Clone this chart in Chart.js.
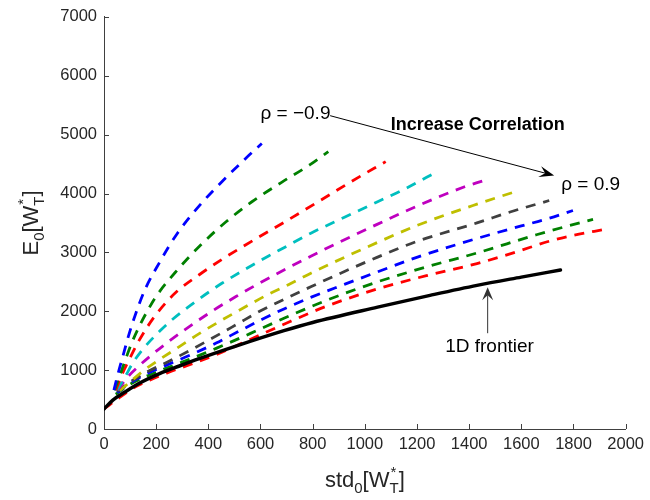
<!DOCTYPE html>
<html><head><meta charset="utf-8">
<script src="https://cdn.jsdelivr.net/npm/chart.js@4/dist/chart.umd.min.js"></script>
<style>html,body{margin:0;padding:0;background:#fff}canvas{display:block}</style>
</head><body>
<canvas id="c" width="650" height="500"></canvas>
<script>
// ---- data ----
const xTicks = [0,200,400,600,800,1000,1200,1400,1600,1800,2000];
const yTicks = [0,1000,2000,3000,4000,5000,6000,7000];

const frontierX = [0,34,80,137,213,289,365,500,690,800,1049,1250,1430,1600,1750];
const frontierY = [340,491,627,780,940,1070,1195,1400,1670,1810,2070,2270,2440,2580,2700];

const rhoLabels = ['-0.9','-0.7','-0.5','-0.3','-0.1','0.1','0.3','0.5','0.7','0.9'];

const rhoM09X = [38,55,72,90,110,156,213,281,365,452,544,605];
const rhoM09Y = [660,960,1230,1520,1810,2356,2830,3322,3790,4200,4600,4850];

const rhoM07X = [40,60,80,106,137,167,201,281,365,468,567,681,790,860];
const rhoM07Y = [660,900,1150,1458,1760,2010,2260,2700,3100,3520,3860,4190,4490,4712];

const rhoM05X = [45,68,99,129,167,213,278,365,452,544,690,821,947,1080];
const rhoM05Y = [660,915,1200,1460,1740,2020,2330,2620,2880,3130,3510,3860,4200,4542];

const rhoM03X = [50,80,110,150,213,262,365,452,544,631,690,795,924,1049,1150,1278];
const rhoM03Y = [660,881,1119,1360,1660,1860,2210,2475,2720,2940,3080,3330,3600,3860,4070,4373];

const rhoM01X = [53,87,129,175,240,327,414,506,593,690,795,924,1049,1202,1380,1456];
const rhoM01Y = [661,864,1051,1230,1458,1740,2000,2250,2470,2700,2940,3220,3480,3790,4110,4220];

const rhoP01X = [60,99,148,213,289,365,452,544,631,707,795,924,1049,1202,1430,1567];
const rhoP01Y = [650,797,980,1180,1400,1620,1850,2080,2290,2450,2650,2920,3170,3460,3820,4017];

const rhoP03X = [50,100,170,240,327,414,506,593,690,795,924,1049,1202,1430,1560,1707];
const rhoP03Y = [640,800,980,1130,1330,1540,1770,1990,2200,2420,2680,2920,3190,3500,3690,3881];

const rhoP05X = [50,100,170,240,338,430,517,605,690,795,924,1049,1202,1365,1479,1600,1700,1798];
const rhoP05Y = [620,780,950,1085,1270,1460,1660,1860,2040,2240,2460,2670,2920,3150,3300,3450,3570,3712];

const rhoP07X = [45,100,170,240,320,430,560,690,850,1049,1250,1430,1658,1780,1875];
const rhoP07Y = [590,760,910,1035,1170,1370,1620,1880,2180,2500,2770,2990,3300,3450,3559];

const rhoP09X = [0,61,110,175,240,340,450,560,690,850,1049,1250,1430,1582,1707,1800,1920];
const rhoP09Y = [340,540,690,830,950,1110,1300,1520,1780,2080,2380,2620,2810,3010,3190,3290,3390];

// ---- styling ----
const curveColors = ['#0000ff','#008000','#ff0000','#00bfbf','#bf00bf','#bfbf00','#404040','#0000ff','#008000','#ff0000'];
const seriesX = [rhoM09X,rhoM07X,rhoM05X,rhoM03X,rhoM01X,rhoP01X,rhoP03X,rhoP05X,rhoP07X,rhoP09X];
const seriesY = [rhoM09Y,rhoM07Y,rhoM05Y,rhoM03Y,rhoM01Y,rhoP01Y,rhoP03Y,rhoP05Y,rhoP07Y,rhoP09Y];

const FONT = "'Liberation Sans', Arial, Helvetica, sans-serif";
const TXT = '#262626';
const AXIS = '#404040';

function pts(xs, ys){ return xs.map((x,i)=>({x:x, y:ys[i]})); }

const datasets = [{
  label: '1D frontier',
  data: pts(frontierX, frontierY),
  borderColor: '#000000',
  borderWidth: 3.5,
  borderCapStyle: 'round',
  showLine: true, pointRadius: 0, cubicInterpolationMode: 'monotone',
  order: 0
}];
seriesX.forEach((xs,i)=>{
  datasets.push({
    label: '\u03c1 = ' + rhoLabels[i],
    data: pts(xs, seriesY[i]),
    borderColor: curveColors[i],
    borderWidth: 2.8,
    borderDash: [10,8],
    borderCapStyle: 'butt',
    showLine: true, pointRadius: 0, cubicInterpolationMode: 'monotone',
    order: 1
  });
});

function drawRich(ctx, parts, x, y){
  let w = 0;
  const m = parts.map(p=>{
    if (p.stack){
      let mw = 0;
      p.stack.forEach(s=>{ ctx.font = s.s + 'px ' + FONT; mw = Math.max(mw, ctx.measureText(s.t).width); });
      return mw;
    }
    ctx.font = p.s + 'px ' + FONT;
    return ctx.measureText(p.t).width;
  });
  m.forEach(v=> w += v);
  let cx = x - w/2;
  ctx.textAlign = 'left';
  ctx.textBaseline = 'alphabetic';
  parts.forEach((p,i)=>{
    if (p.stack){
      p.stack.forEach(s=>{ ctx.font = s.s + 'px ' + FONT; ctx.fillText(s.t, cx + (s.dx||0), y + (s.dy||0)); });
    } else {
      ctx.font = p.s + 'px ' + FONT;
      ctx.fillText(p.t, cx, y + (p.dy||0));
    }
    cx += m[i];
  });
}

function arrow(ctx, x1, y1, x2, y2, color, lw, hl, hw){
  const a = Math.atan2(y2-y1, x2-x1);
  ctx.save();
  ctx.strokeStyle = color; ctx.lineWidth = lw;
  ctx.beginPath();
  ctx.moveTo(x1, y1);
  ctx.lineTo(x2 - Math.cos(a)*hl*0.6, y2 - Math.sin(a)*hl*0.6);
  ctx.stroke();
  ctx.translate(x2, y2); ctx.rotate(a);
  ctx.beginPath();
  ctx.moveTo(0,0); ctx.lineTo(-hl, -hw/2); ctx.lineTo(-hl*0.62, 0); ctx.lineTo(-hl, hw/2); ctx.closePath();
  ctx.fillStyle = color; ctx.fill();
  ctx.restore();
}

const decor = {
  id: 'decor',
  afterDraw(chart){
    const ctx = chart.ctx, xs = chart.scales.x, ys = chart.scales.y, ca = chart.chartArea;
    ctx.save();
    ctx.strokeStyle = AXIS; ctx.lineWidth = 1;
    ctx.beginPath();
    xTicks.forEach(v=>{ const p = Math.round(xs.getPixelForValue(v)) + 0.5; ctx.moveTo(p, ca.bottom); ctx.lineTo(p, ca.bottom - 5); });
    yTicks.forEach(v=>{ const p = Math.round(ys.getPixelForValue(v)) + 0.5; ctx.moveTo(ca.left, p); ctx.lineTo(ca.left + 5, p); });
    ctx.stroke();

    ctx.fillStyle = TXT;
    const midX = (ca.left + ca.right)/2, midY = (ca.top + ca.bottom)/2;
    const titleParts = (head)=>[
      {t: head, s: 22},
      {t: '0', s: 15, dy: 6},
      {t: '[W', s: 22},
      {stack: [{t: '*', s: 15, dy: -10, dx: 1}, {t: 'T', s: 15, dy: 6}]},
      {t: ']', s: 22}
    ];
    drawRich(ctx, titleParts('std'), midX, 487);
    ctx.save();
    ctx.translate(38, midY);
    ctx.rotate(-Math.PI/2);
    drawRich(ctx, titleParts('E'), 0, 0);
    ctx.restore();

    ctx.fillStyle = '#000';
    ctx.textAlign = 'left'; ctx.textBaseline = 'alphabetic';
    ctx.font = '19px ' + FONT;
    ctx.fillText('\u03c1 = \u22120.9', xs.getPixelForValue(600), ys.getPixelForValue(5270));
    ctx.fillText('\u03c1 = 0.9', xs.getPixelForValue(1753), ys.getPixelForValue(4068));
    ctx.fillText('1D frontier', xs.getPixelForValue(1308), ys.getPixelForValue(1310));
    ctx.font = 'bold 18px ' + FONT;
    ctx.fillText('Increase Correlation', xs.getPixelForValue(1099), ys.getPixelForValue(5080));

    arrow(ctx, xs.getPixelForValue(867), ys.getPixelForValue(5322),
               xs.getPixelForValue(1726), ys.getPixelForValue(4305), '#000', 1, 15, 11);
    arrow(ctx, xs.getPixelForValue(1471), ys.getPixelForValue(1627),
               xs.getPixelForValue(1471), ys.getPixelForValue(2407), '#333', 1, 13, 11);
    ctx.restore();
  }
};

Chart.defaults.font.family = FONT;
Chart.defaults.color = TXT;

new Chart(document.getElementById('c'), {
  type: 'scatter',
  data: { datasets: datasets },
  options: {
    responsive: false,
    animation: false,
    layout: { padding: { top: 16, right: 20, left: 0, bottom: 0 } },
    plugins: { legend: { display: false }, tooltip: { enabled: false } },
    scales: {
      x: {
        type: 'linear', min: 0, max: 2000,
        afterBuildTicks: s => { s.ticks = xTicks.map(v=>({value:v})); },
        afterFit: s => { s.height = 71; },
        grid: { display: false, drawTicks: false },
        border: { display: true, color: AXIS, width: 1 },
        ticks: { padding: 6, color: TXT, font: { size: 16.5 }, maxRotation: 0, autoSkip: false, callback: v => String(v) }
      },
      y: {
        type: 'linear', min: 0, max: 7000,
        afterBuildTicks: s => { s.ticks = yTicks.map(v=>({value:v})); },
        afterFit: s => { s.width = 104; },
        grid: { display: false, drawTicks: false },
        border: { display: true, color: AXIS, width: 1 },
        ticks: { padding: 7, color: TXT, font: { size: 16.5 }, autoSkip: false, callback: v => String(v) }
      }
    }
  },
  plugins: [decor]
});
</script>
</body></html>
